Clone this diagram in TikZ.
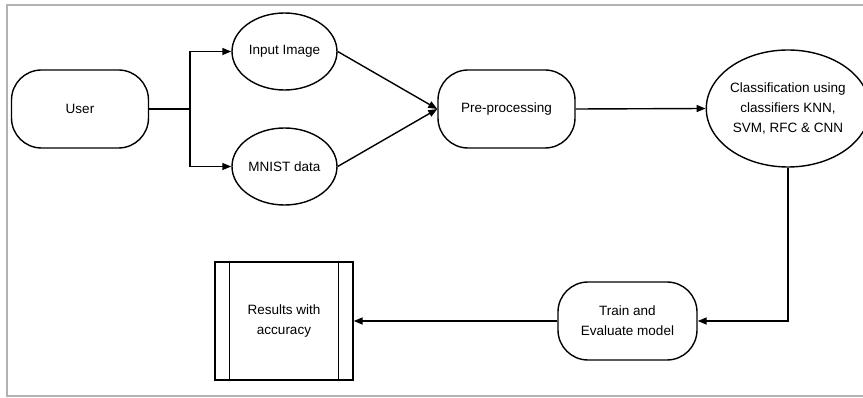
\documentclass[tikz,border=0pt]{standalone}
\usepackage{fontspec}
\setmainfont{Liberation Sans}
\usetikzlibrary{shapes.geometric,arrows.meta}
\begin{document}
\begin{tikzpicture}[x=1pt,y=1pt,
  every node/.style={font=\fontsize{13.5}{20}\selectfont, align=center, inner sep=0pt},
  pill/.style={draw, line width=1.4pt, rounded corners=30pt, minimum width=#1, minimum height=78pt},
  oval/.style={draw, ellipse, line width=1.4pt},
  conn/.style={line width=1.4pt, -{Triangle[length=9pt,width=7pt]}},
  plain/.style={line width=1.4pt}
]
\useasboundingbox (0,0) rectangle (863,-398);
% frame (right side open)
\draw[line width=2pt, color=black!30] (863,-5) -- (7,-5) -- (7,-396) -- (863,-396);

\node[pill=137pt] (user) at (80,-109) {User};
\node[oval, minimum width=105pt, minimum height=77pt] (inimg) at (284.5,-51.5) {Input Image};
\node[oval, minimum width=105pt, minimum height=77pt] (mnist) at (284.5,-166.5) {MNIST data};
\node[pill=137pt] (pre) at (506.5,-109) {Pre-processing};
\node[oval, minimum width=150pt, minimum height=117pt] (cls) at (788,-108.5) {Classification using\\classifiers KNN,\\SVM, RFC \& CNN};
\node[pill=139pt] (train) at (627.5,-321) {Train and\\Evaluate model};
\node[draw, line width=1.4pt, minimum width=138pt, minimum height=118pt] (res) at (284,-321) {Results with\\accuracy};
\draw[plain] ([xshift=15pt]res.north west) -- ([xshift=15pt]res.south west);
\draw[plain] ([xshift=-15pt]res.north east) -- ([xshift=-15pt]res.south east);

\coordinate (br) at (190,-109);
\draw[plain] (user.east) -- (br);
\draw[conn] (br) |- (inimg.west);
\draw[conn] (br) |- (mnist.west);
\draw[conn] (inimg.east) -- (pre.west);
\draw[conn] (mnist.east) -- (pre.west);
\draw[conn] (pre.east) -- (cls.west);
\draw[conn] (cls.south) |- (train.east);
\draw[conn] (train.west) -- (res.east);
\end{tikzpicture}
\end{document}
